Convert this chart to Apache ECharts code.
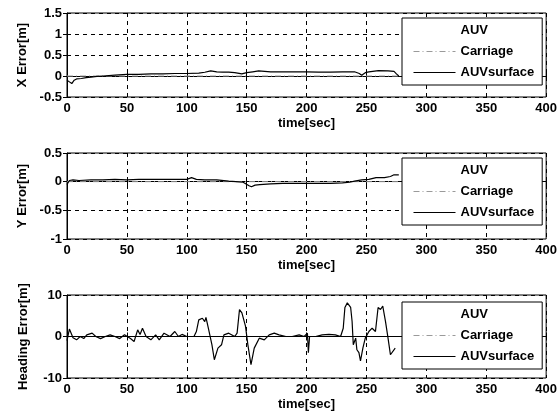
<!DOCTYPE html>
<html>
<head>
<meta charset="utf-8">
<script src="https://cdn.jsdelivr.net/npm/echarts@6/dist/echarts.min.js"></script>
<style>
  html, body { margin: 0; padding: 0; background: #fff; }
  #chart { width: 560px; height: 418px; }
</style>
</head>
<body>
<div id="chart"></div>
<script>
// time ticks shared by all three panels
const timeTicks = [0, 50, 100, 150, 200, 250, 300, 350, 400];
const seriesNames = ["AUV", "Carriage", "AUVsurface"];
const seriesColors = ["#ffffff", "#9a9a9a", "#000000"];

// X error [m]
const xTime = [0, 2, 4, 6, 8, 12, 16, 20, 25, 30, 40, 50, 60, 70, 80, 90, 100, 110, 115, 120, 125, 130, 135, 140, 146, 150, 155, 160, 170, 180, 190, 200, 210, 220, 230, 240, 244, 246, 249, 252, 260, 268, 273, 275, 277];
const xErr = [-0.1, -0.14, -0.18, -0.1, -0.07, -0.06, -0.04, -0.03, -0.01, 0, 0.02, 0.04, 0.04, 0.05, 0.05, 0.06, 0.06, 0.07, 0.09, 0.12, 0.1, 0.09, 0.09, 0.08, 0.05, 0.08, 0.1, 0.12, 0.1, 0.1, 0.1, 0.1, 0.09, 0.09, 0.1, 0.1, 0.06, 0.02, 0.08, 0.1, 0.13, 0.12, 0.11, 0.05, 0.0];

// Y error [m]
const yTime = [0, 2, 5, 10, 20, 30, 40, 50, 60, 70, 80, 90, 100, 104, 108, 115, 125, 135, 141, 147, 152, 154, 157, 161, 170, 180, 190, 200, 210, 220, 230, 236, 240, 246, 252, 258, 265, 270, 273, 277];
const yErr = [-0.05, 0.02, 0.03, 0.02, 0.03, 0.03, 0.04, 0.03, 0.04, 0.04, 0.04, 0.04, 0.04, 0.07, 0.04, 0.03, 0.03, 0.01, 0, -0.01, -0.07, -0.09, -0.06, -0.05, -0.04, -0.03, -0.03, -0.03, -0.03, -0.03, -0.02, -0.01, 0.01, 0.03, 0.04, 0.07, 0.07, 0.09, 0.12, 0.12];

// Heading error
const hTime = [0, 2, 5, 8, 11, 14, 16.5, 21, 24, 28, 32, 36, 40, 44, 48, 53, 56, 59, 61, 63, 66, 70, 74, 77, 81, 86, 90, 93, 96, 100, 106, 108, 110, 113, 115, 116, 118, 121, 123, 126, 129, 131, 135, 140, 142, 144, 146, 149, 151, 153.6, 156.3, 160.5, 164.7, 168.8, 173, 177, 182.7, 188, 193.8, 198, 200.7, 201.5, 202.5, 207.6, 213, 218.7, 224, 228.4, 230.6, 232, 234, 236.8, 238, 239, 241, 242, 243.7, 245, 247, 249, 252, 253, 254.7, 257.5, 259.7, 261.7, 263.6, 265.9, 268, 270, 274];
const hErr = [-1, 1.8, -0.3, -0.8, 0, -0.5, 0.4, 0.8, 0, -0.5, 0, 0.4, 0, -0.5, 0.4, -0.5, -1.2, 1.6, 0.5, 2, 0, -0.8, 0.4, -0.8, 0.8, 0, 1.2, 0, 0.5, 0, 0, 1.2, 4, 4.4, 3.6, 4.6, 2, -2, -5.6, -2.8, -2, 0.4, 0.8, 0, 0.8, 6.5, 5.7, 2.5, -2, -6.8, -2.8, -0.4, -0.8, 0.4, 0.8, 0.4, 0, 0, 0.4, 0, 0.8, -3.9, 0, 0, 0.4, 0.5, 0.4, 0, 2, 7, 8.1, 7, 3.6, -2, -0.4, -3.2, -3.9, -5.9, -2.8, -0.4, 1.2, 0.8, 2, 1.2, 7, 6.5, 7.3, 3.6, -0.4, -4.4, -2.8];

// Carriage reference (on zero)
const carriageTime = [0, 278];
const carriageVal = [0, 0];

const panels = [
  { name: "X Error[m]", top: 13, height: 84, min: -0.5, max: 1.5, interval: 0.5, t: xTime, v: xErr, carriage: true },
  { name: "Y Error[m]", top: 153, height: 86, min: -1, max: 0.5, interval: 0.5, t: yTime, v: yErr, carriage: true },
  { name: "Heading Error[m]", top: 295, height: 83, min: -10, max: 10, interval: 10, t: hTime, v: hErr, carriage: false }
];

const font = "Liberation Sans, Arial, sans-serif";
const chart = echarts.init(document.getElementById("chart"));

const grid = [], xAxis = [], yAxis = [], series = [], legend = [];

panels.forEach((p, i) => {
  grid.push({ left: 67, right: 12, top: p.top, height: p.height, show: true, borderColor: "#000", borderWidth: 1, backgroundColor: "#fff" });

  xAxis.push({
    type: "value", gridIndex: i, min: 0, max: 400, interval: 50,
    name: "time[sec]", nameLocation: "middle", nameGap: 20,
    nameTextStyle: { color: "#000", fontSize: 13, fontWeight: "bold", fontFamily: font },
    axisLine: { lineStyle: { color: "#000", width: 1 } },
    axisTick: { inside: true, length: 4, lineStyle: { color: "#000" } },
    axisLabel: { color: "#000", fontSize: 13, fontWeight: "bold", fontFamily: font, margin: 5 },
    splitLine: { show: true, lineStyle: { color: "#000", type: [4, 4], width: 1 } }
  });
  // top edge ticks
  xAxis.push({
    type: "value", gridIndex: i, position: "top", min: 0, max: 400, interval: 50,
    axisLine: { show: false }, axisLabel: { show: false }, splitLine: { show: false },
    axisTick: { inside: true, length: 4, lineStyle: { color: "#000" } }
  });

  yAxis.push({
    type: "value", gridIndex: i, min: p.min, max: p.max, interval: p.interval,
    name: p.name, nameLocation: "middle", nameGap: 37, nameRotate: 90,
    nameTextStyle: { color: "#000", fontSize: 13, fontWeight: "bold", fontFamily: font },
    axisLine: { show: true, lineStyle: { color: "#000", width: 1 } },
    axisTick: { show: true, inside: true, length: 4, lineStyle: { color: "#000" } },
    axisLabel: { color: "#000", fontSize: 13, fontWeight: "bold", fontFamily: font, margin: 5 },
    splitLine: { show: true, lineStyle: { color: "#000", type: [4, 4], width: 1 } }
  });
  // right edge ticks
  yAxis.push({
    type: "value", gridIndex: i, position: "right", min: p.min, max: p.max, interval: p.interval,
    axisLine: { show: false }, axisLabel: { show: false }, splitLine: { show: false },
    axisTick: { show: true, inside: true, length: 4, lineStyle: { color: "#000" } }
  });

  const xi = i * 2, yi = i * 2;

  series.push({
    name: "AUV", type: "line", xAxisIndex: xi, yAxisIndex: yi, data: [],
    symbol: "none", lineStyle: { color: seriesColors[0], width: 1 }, itemStyle: { color: "transparent" }
  });
  series.push({
    name: "Carriage", type: "line", xAxisIndex: xi, yAxisIndex: yi,
    data: p.carriage ? carriageTime.map((t, k) => [t, carriageVal[k]]) : [],
    symbol: "none", z: 3,
    lineStyle: { color: seriesColors[1], width: 1, type: [6, 3, 1, 3] }, itemStyle: { color: "transparent" }
  });
  series.push({
    name: "AUVsurface", type: "line", xAxisIndex: xi, yAxisIndex: yi,
    data: p.t.map((t, k) => [t, p.v[k]]),
    symbol: "none", z: 4,
    lineStyle: { color: seriesColors[2], width: 1.2 }, itemStyle: { color: "transparent" }
  });

  legend.push({
    data: seriesNames.map((n, k) => ({
      name: n,
      lineStyle: { color: seriesColors[k], width: 1, type: k === 1 ? [6, 3, 1, 3] : "solid" }
    })),
    orient: "vertical", left: 402, top: p.top + (i === 2 ? 7 : 5),
    itemWidth: 42, itemHeight: 14, itemGap: 8, padding: [6, 8, 6, 11],
    backgroundColor: "#fff", borderColor: "#000", borderWidth: 1, borderRadius: 0,
    selectedMode: false,
    itemStyle: { color: "transparent", borderColor: "transparent", borderWidth: 0 },
    textStyle: { color: "#000", fontSize: 13, fontWeight: "bold", fontFamily: font, padding: [0, 0, 0, 0] }
  });
});

chart.setOption({
  backgroundColor: "#fff",
  animation: false,
  grid, xAxis, yAxis, series, legend
});
</script>
</body>
</html>
